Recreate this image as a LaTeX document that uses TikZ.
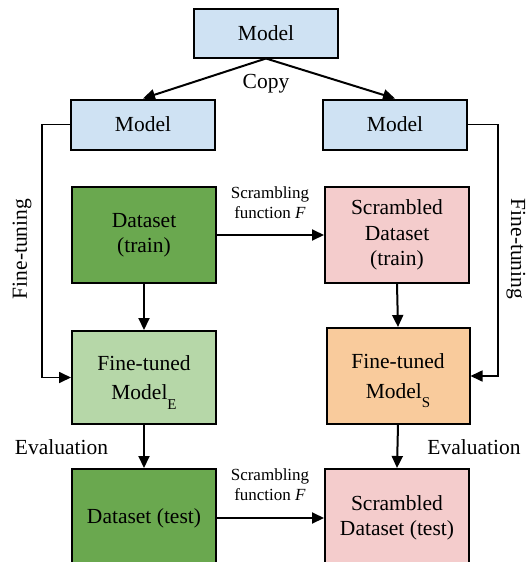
\documentclass[tikz,border=0pt]{standalone}
\usepackage{fontspec}
\setmainfont{Liberation Serif}
\usetikzlibrary{arrows.meta}
\definecolor{mblue}{HTML}{CFE2F3}
\definecolor{dkgreen}{HTML}{6AA84F}
\definecolor{ltgreen}{HTML}{B6D7A8}
\definecolor{mpink}{HTML}{F4CCCC}
\definecolor{morange}{HTML}{F9CB9C}
\newcommand{\lowsub}[1]{\smash{\raisebox{-9.5pt}{\fontsize{15}{15}\selectfont #1}}}
\tikzset{
  box/.style={draw=black, line width=2pt, minimum width=144pt, inner sep=0pt,
    align=center, font=\fontsize{21.5}{25.5}\selectfont},
  flow/.style={line width=2pt, -{Triangle[length=12pt,width=11pt]}},
  tune/.style={line width=1.7pt, -{Triangle[length=12pt,width=11pt]}},
  lbl/.style={inner sep=0pt, align=center, font=\fontsize{21.5}{25.5}\selectfont},
  slbl/.style={inner sep=0pt, align=center, font=\fontsize{17}{20}\selectfont},
}
\begin{document}
\begin{tikzpicture}[x=1pt,y=-1pt]
\useasboundingbox (0,0) rectangle (529,562);
\clip (0,0) rectangle (529,562);
\fill[white] (0,0) rectangle (529,562);

\node[box, fill=mblue, minimum height=49pt] (tm) at (266,33) {Model};
\node[box, fill=mblue, minimum height=50pt] (lm) at (143,124.5) {Model};
\node[box, fill=mblue, minimum height=50pt] (rm) at (395,124.5) {Model};

\node[box, fill=dkgreen, minimum height=96pt] (dtr) at (144,235) {Dataset\\(train)};
\node[box, fill=mpink, minimum height=96pt] (str) at (397,235) {Scrambled\\Dataset\\(train)};

\node[box, fill=ltgreen, minimum height=93pt] (fe) at (144,377.5) {Fine-tuned\\[4pt]Model\lowsub{E}};
\node[box, fill=morange, minimum height=96pt, minimum width=143pt] (fs) at (398,376) {Fine-tuned\\[4pt]Model\lowsub{S}};

\node[box, fill=dkgreen, minimum height=98pt] (dte) at (144,518) {Dataset (test)};
\node[box, fill=mpink, minimum height=98pt] (ste) at (397,518) {Scrambled\\Dataset (test)};

% copy arrows
\draw[flow] (tm.south) -- (lm.north);
\draw[flow] (tm.south) -- (rm.north);
\node[lbl] (copy) at (266,84) {Copy};

% fine-tuning connectors
\coordinate (lc) at (42,124.5);
\coordinate (rc) at (498,124.5);
\draw[tune] (lm.west) -- (lc) |- (fe.west);
\draw[tune] (rm.east) -- (rc) |- (fs.east);
\node[lbl, rotate=90] (ftl) at (22,249) {Fine-tuning};
\node[lbl, rotate=-90] (ftr) at (516,249) {Fine-tuning};

% scrambling
\draw[flow] (dtr.east) -- (str.west);
\node[slbl] (sc1) at (270,203) {Scrambling\\function \textit{F}};
\draw[flow] (dte.east) -- (ste.west);
\node[slbl] (sc2) at (270,485) {Scrambling\\function \textit{F}};

% vertical flows
\draw[flow] (dtr.south) -- (fe.north);
\draw[flow] (str.south) -- (fs.north);
\draw[flow] (fe.south) -- (dte.north);
\draw[flow] (fs.south) -- (ste.north);
\node[lbl] (evl) at (61.5,447) {Evaluation};
\node[lbl] (evr) at (474,447) {Evaluation};
\end{tikzpicture}
\end{document}
